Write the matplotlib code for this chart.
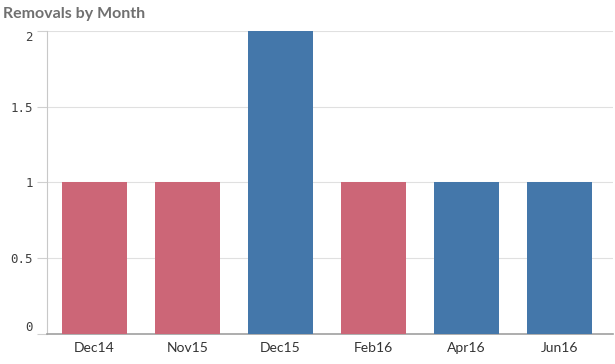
import matplotlib
matplotlib.use('Agg')
import matplotlib.pyplot as plt

months = ['Dec14', 'Nov15', 'Dec15', 'Feb16', 'Apr16', 'Jun16']
removals = [1, 1, 2, 1, 1, 1]
colors = ['#cc6677', '#cc6677', '#4477aa', '#cc6677', '#4477aa', '#4477aa']
y_ticks = [0, 0.5, 1, 1.5, 2]
y_labels = ['0', '0.5', '1', '1.5', '2']

fig = plt.figure(figsize=(6.15, 3.64), dpi=100)
ax = fig.add_axes([47 / 615, 30 / 364, 566 / 615, 303 / 364])

ax.bar(range(len(months)), removals, width=0.7, color=colors, zorder=3)
ax.set_xlim(-0.51, 5.58)
ax.set_ylim(0, 2)

ax.set_yticks(y_ticks)
ax.set_yticklabels(y_labels, family='DejaVu Sans Mono', fontsize=9, color='#404040')
# end labels sit inside the plot range, like the original
ylabs = ax.get_yticklabels()
ylabs[0].set_va('bottom')
ylabs[-1].set_va('top')
ax.set_xticks(range(len(months)))
ax.set_xticklabels(months, family='Lato', fontsize=10, color='#333333')

ax.grid(axis='y', color='#e0e0e0', linewidth=0.8, zorder=0)
ax.tick_params(axis='y', length=7, color='#d0d0d0', pad=3)
ax.tick_params(axis='x', length=0, pad=6)
for s in ['top', 'right']:
    ax.spines[s].set_visible(False)
ax.spines['left'].set_color('#c8c8c8')
ax.spines['bottom'].set_color('#a0a0a0')
ax.spines['bottom'].set_linewidth(1.2)

fig.text(3 / 615, 1 - 14 / 364, 'Removals by Month', family='Lato', fontweight='bold',
         fontsize=11.5, color='#707070', va='center', ha='left')

plt.savefig('out.png', dpi=100)
